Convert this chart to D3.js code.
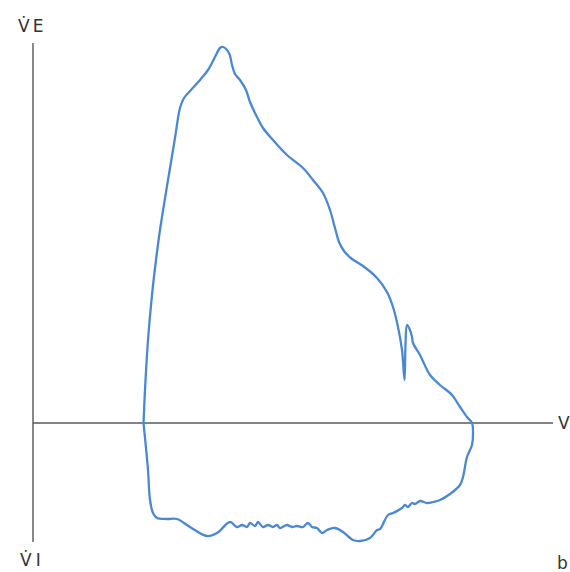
<!DOCTYPE html>
<html>
  <head>
    <script src="https://d3js.org/d3.v7.min.js"></script>
    <style>
      body { margin: 0; background: #fff; }
    </style>
  </head>
  <body>
    <script>

    // flow-volume loop, volume in L, flow in L/s (expiration positive)
    var expVolume = [1.105, 1.12, 1.15, 1.19, 1.23, 1.27, 1.35, 1.42, 1.47, 1.51, 1.57,
      1.67, 1.75, 1.82, 1.87, 1.90, 1.96, 1.99, 2.02, 2.07, 2.13, 2.17, 2.24, 2.30, 2.40,
      2.54, 2.70, 2.80, 2.90, 2.97, 3.02, 3.06, 3.11, 3.19, 3.30, 3.44, 3.54, 3.60,
      3.65, 3.69, 3.715, 3.725, 3.74, 3.77, 3.79, 3.80, 3.87, 3.97, 4.07, 4.19, 4.27, 4.34, 4.39];
    var expFlow = [0, 0.33, 0.83, 1.28, 1.63, 1.93, 2.43, 2.85, 3.15, 3.25, 3.32,
      3.43, 3.53, 3.66, 3.75, 3.76, 3.70, 3.58, 3.49, 3.43, 3.33, 3.21, 3.06, 2.95, 2.83,
      2.68, 2.55, 2.43, 2.30, 2.13, 1.95, 1.81, 1.72, 1.64, 1.57, 1.45, 1.31, 1.16,
      0.96, 0.73, 0.43, 0.78, 0.98, 0.93, 0.86, 0.80, 0.68, 0.48, 0.38, 0.28, 0.16, 0.06, 0];

    var inspVolume = [4.40, 4.39, 4.34, 4.30, 4.27, 4.17, 4.07, 4.00, 3.94, 3.87, 3.82, 3.79,
      3.75, 3.72, 3.69, 3.60, 3.55, 3.47, 3.44, 3.37, 3.27, 3.20, 3.10, 3.02, 2.94, 2.89,
      2.84, 2.79, 2.75, 2.70, 2.64, 2.59, 2.54, 2.47, 2.44, 2.40, 2.35, 2.30, 2.25, 2.22,
      2.17, 2.14, 2.09, 2.04, 1.97, 1.84, 1.74, 1.57, 1.44, 1.34, 1.24, 1.20, 1.17, 1.15, 1.105];
    var inspFlow = [-0.10, -0.22, -0.34, -0.54, -0.62, -0.71, -0.77, -0.79, -0.80, -0.78, -0.81, -0.80,
      -0.84, -0.82, -0.85, -0.90, -0.92, -1.06, -1.07, -1.15, -1.18, -1.17, -1.09, -1.05, -1.07, -1.10,
      -1.05, -1.04, -1.00, -1.04, -1.03, -1.04, -1.02, -1.05, -1.02, -1.04, -1.02, -1.04, -0.99, -1.03,
      -1.00, -1.04, -1.02, -1.04, -0.99, -1.10, -1.13, -1.04, -0.96, -0.96, -0.95, -0.90, -0.77, -0.47, 0];

    var w = 570;
    var h = 572;

    var svg = d3.select("body")
      .append("svg")
      .attr("width", w)
      .attr("height", h);

    var x = d3.scaleLinear().domain([0, 5.2]).range([33, 553]);
    var y = d3.scaleLinear().domain([-1.19, 3.80]).range([542, 43]);

    // axes: volume axis at zero flow, flow axis at zero volume
    svg.append("line")
      .attr("x1", x(0)).attr("x2", x(0))
      .attr("y1", y(3.80)).attr("y2", y(-1.19))
      .attr("stroke", "#6b6b6b")
      .attr("stroke-width", 1.6);

    svg.append("line")
      .attr("x1", x(0)).attr("x2", x(5.2))
      .attr("y1", y(0)).attr("y2", y(0))
      .attr("stroke", "#5a5a5a")
      .attr("stroke-width", 1.6);

    // build the loop from both halves
    var loop = [];
    expVolume.forEach(function(v, i) { loop.push([v, expFlow[i]]); });
    inspVolume.forEach(function(v, i) { loop.push([v, inspFlow[i]]); });

    var line = d3.line()
      .x(function(d) { return x(d[0]); })
      .y(function(d) { return y(d[1]); })
      .curve(d3.curveCatmullRom.alpha(0.5));

    svg.append("path")
      .datum(loop)
      .attr("d", line)
      .attr("fill", "none")
      .attr("stroke", "#4a88d4")
      .attr("stroke-width", 2.3)
      .attr("stroke-linejoin", "round");

    // labels
    var labels = svg.append("g")
      .attr("font-family", "DejaVu Sans, sans-serif")
      .attr("font-size", "17px")
      .attr("fill", "#333");

    labels.append("text").attr("x", 18).attr("y", 32)
      .attr("letter-spacing", "3px").text("V\u0307E");
    labels.append("text").attr("x", 20).attr("y", 566)
      .attr("letter-spacing", "4px").text("V\u0307I");
    labels.append("text").attr("x", 558).attr("y", 429).text("V");
    labels.append("text").attr("x", 557).attr("y", 569).text("b");

    </script>
  </body>
</html>
